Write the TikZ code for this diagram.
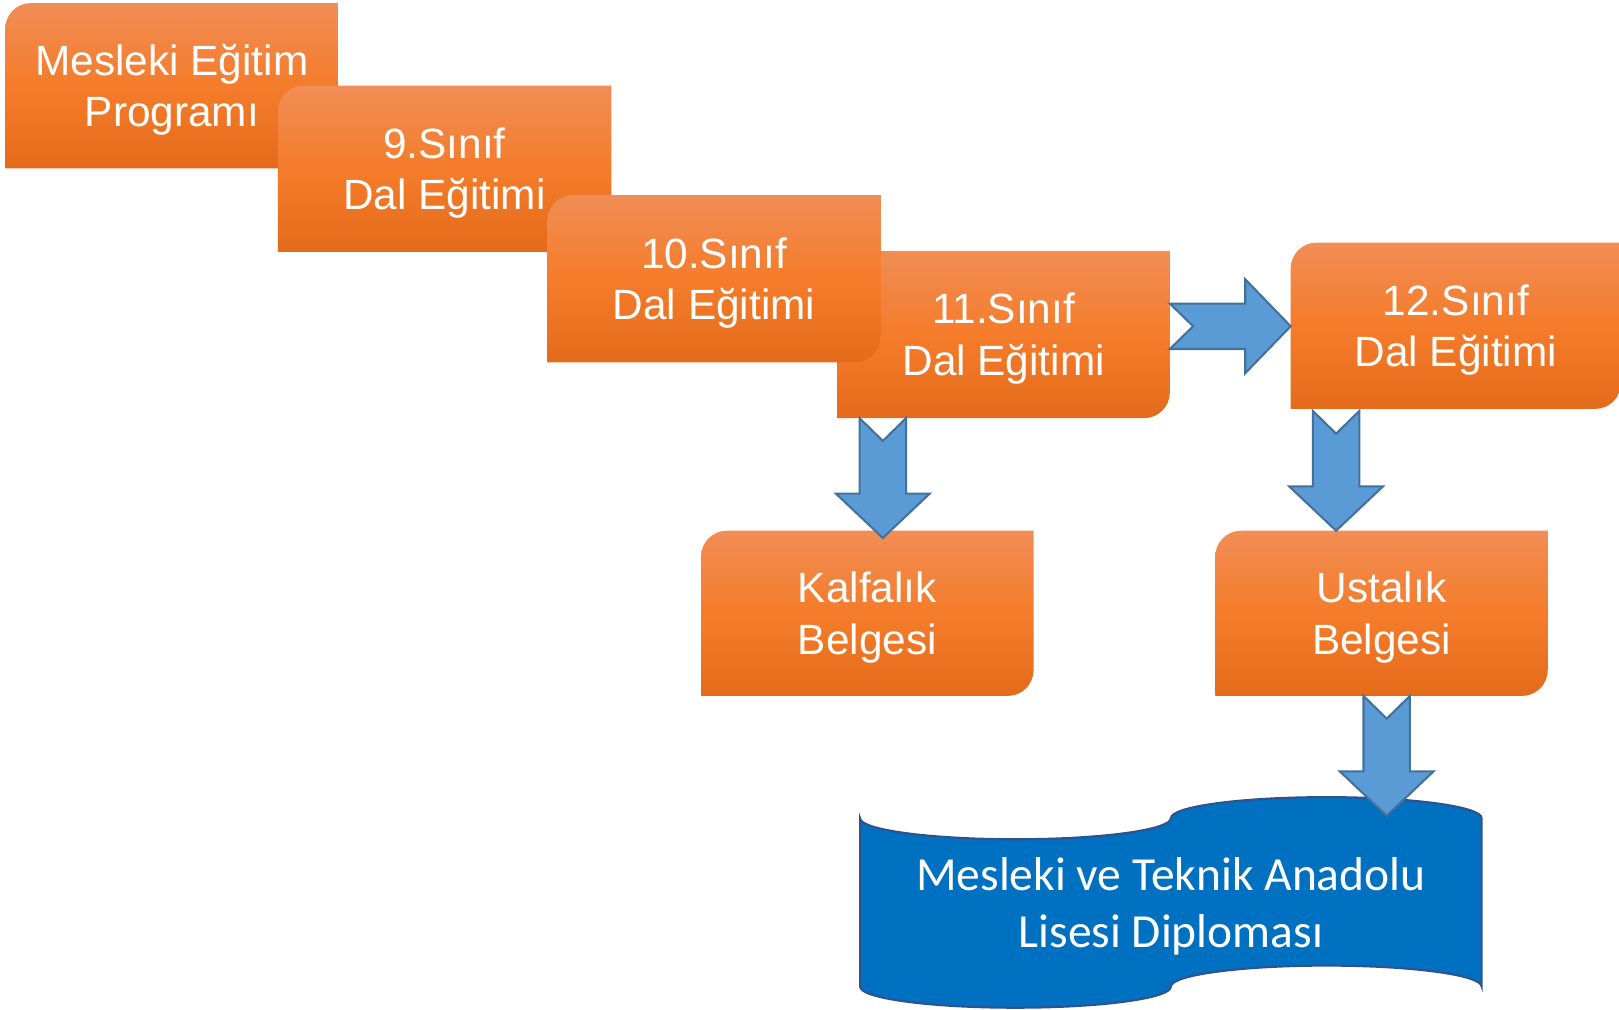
\documentclass[tikz,border=0pt]{standalone}
\usepackage{fontspec}
\setmainfont{Liberation Sans}
\newfontfamily\calibrifont{Carlito}
\usetikzlibrary{calc}
\definecolor{orTop}{RGB}{241,141,86}
\definecolor{orMid}{RGB}{244,124,42}
\definecolor{orBot}{RGB}{228,107,27}
\definecolor{arFill}{RGB}{91,155,213}
\definecolor{arLine}{RGB}{65,113,156}
\definecolor{bnFill}{RGB}{0,112,192}
\definecolor{bnLine}{RGB}{47,82,143}
\tikzset{
  orshade/.style={top color=orTop,bottom color=orBot,middle color=orMid},
  boxlabel/.style={align=center,text=white,inner sep=0pt,font=\fontsize{20.5}{25}\selectfont},
  blockarrow/.style={fill=arFill,draw=arLine,line width=1pt,line join=miter},
  bannerlabel/.style={align=center,text=white,inner sep=0pt,font=\calibrifont\fontsize{23}{27.5}\selectfont}
}
% orange box with rounded top-left and bottom-right corners
\newcommand{\orbox}[6]{%
  \shade[orshade] (#1,#4) -- (#1,#2+25) arc[start angle=180,end angle=90,radius=12.5pt]
    -- (#3,#2) -- (#3,#4-25) arc[start angle=0,end angle=-90,radius=12.5pt] -- cycle;
  \node[boxlabel] (#5) at ({(#1+#3)/2},{(#2+#4)/2+4}) {#6};}
% notched block arrow pointing down
\newcommand{\blkdown}[2]{%
  \draw[blockarrow] let \p1=(#1), \p2=(#2) in
    (\x1-11.25pt,\y1) -- (\x1,\y1-11pt) -- (\x1+11.25pt,\y1) -- (\x1+11.25pt,\y2+21.5pt)
    -- (\x1+22.75pt,\y2+21.5pt) -- (\x2,\y2) -- (\x1-22.75pt,\y2+21.5pt)
    -- (\x1-11.25pt,\y2+21.5pt) -- cycle;}
% notched block arrow pointing right
\newcommand{\blkright}[2]{%
  \draw[blockarrow] let \p1=(#1), \p2=(#2) in
    (\x1,\y1+11pt) -- (\x2-22pt,\y1+11pt) -- (\x2-22pt,\y1+22.75pt) -- (\x2,\y2)
    -- (\x2-22pt,\y1-22.75pt) -- (\x2-22pt,\y1-11pt) -- (\x1,\y1-11pt)
    -- (\x1+11.25pt,\y1) -- cycle;}
\begin{document}
\begin{tikzpicture}[x=0.5pt,y=-0.5pt]
\useasboundingbox (0,0) rectangle (1568,978);
% boxes
\orbox{5}{3}{328}{163}{b1}{Mesleki Eğitim\\Programı}
\orbox{269}{83}{592}{244}{b2}{9.Sınıf\\Dal Eğitimi}
\orbox{811}{243}{1133}{405}{b4}{11.Sınıf\\Dal Eğitimi}
\orbox{530}{189}{853}{351}{b3}{10.Sınıf\\Dal Eğitimi}
\orbox{1250}{235}{1570}{396}{b5}{12.Sınıf\\Dal Eğitimi}
\orbox{679}{514}{1001}{674}{kb}{Kalfalık\\Belgesi}
\orbox{1177}{514}{1499}{674}{ub}{Ustalık\\Belgesi}
% banner (punched tape shape)
\filldraw[fill=bnFill,draw=bnLine,line width=1pt]
  (833,792.4) arc[start angle=180,end angle=360,x radius=75.25pt,y radius=10.2pt]
  arc[start angle=180,end angle=0,x radius=75.25pt,y radius=10.2pt]
  -- (1435,955.6) arc[start angle=0,end angle=180,x radius=75.25pt,y radius=10.2pt]
  arc[start angle=360,end angle=180,x radius=75.25pt,y radius=10.2pt] -- cycle;
\node[bannerlabel] (dip) at (1134,878) {Mesleki ve Teknik Anadolu\\Lisesi Diploması};
% arrow end points
\coordinate (r1s) at (1133,316);
\coordinate (r1e) at (1250,316);
\coordinate (d1s) at (855,405);
\coordinate (d1e) at (855,521);
\coordinate (d2s) at (1294,398);
\coordinate (d2e) at (1294,514);
\coordinate (d3s) at (1343,674);
\coordinate (d3e) at (1343,790);
\blkright{r1s}{r1e}
\blkdown{d1s}{d1e}
\blkdown{d2s}{d2e}
\blkdown{d3s}{d3e}
\end{tikzpicture}
\end{document}
